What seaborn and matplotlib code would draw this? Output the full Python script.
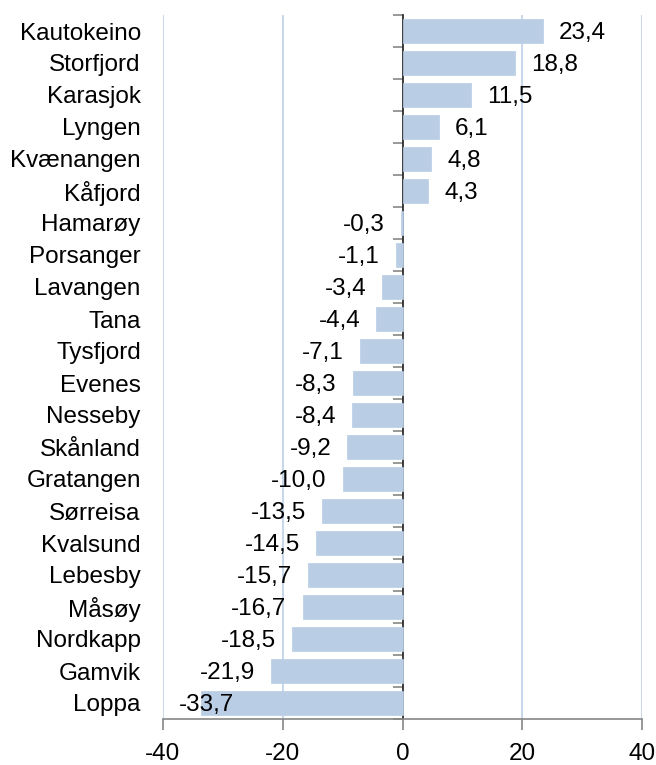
import seaborn as sns
import matplotlib.pyplot as plt
import pandas as pd

municipalities = ["Kautokeino", "Storfjord", "Karasjok", "Lyngen", "Kvænangen", "Kåfjord",
                  "Hamarøy", "Porsanger", "Lavangen", "Tana", "Tysfjord", "Evenes",
                  "Nesseby", "Skånland", "Gratangen", "Sørreisa", "Kvalsund", "Lebesby",
                  "Måsøy", "Nordkapp", "Gamvik", "Loppa"]
change = [23.4, 18.8, 11.5, 6.1, 4.8, 4.3, -0.3, -1.1, -3.4, -4.4, -7.1, -8.3,
          -8.4, -9.2, -10.0, -13.5, -14.5, -15.7, -16.7, -18.5, -21.9, -33.7]
x_ticks = [-40, -20, 0, 20, 40]

BAR = "#b9cde5"
GRID = "#c2d4ea"
AXIS = "#868686"

sns.set_theme(style="white")
plt.rcParams["font.family"] = ["Liberation Sans", "DejaVu Sans"]
plt.rcParams["font.size"] = 17.5
plt.rcParams["text.color"] = "black"
plt.rcParams["xtick.color"] = "black"
plt.rcParams["ytick.color"] = "black"

df = pd.DataFrame({"kommune": municipalities, "endring": change})

fig = plt.figure(figsize=(6.56, 7.65), dpi=100)
ax = fig.add_axes([163 / 656, 1 - 719 / 765, (642 - 163) / 656, (719 - 15) / 765])

sns.barplot(data=df, y="kommune", x="endring", orient="h", color=BAR,
            saturation=1, width=0.75, ax=ax, zorder=2, edgecolor=BAR, linewidth=0.5)

ax.set_xlim(-40, 40)
ax.set_ylim(len(municipalities) - 0.5, -0.5)
ax.set_xlabel("")
ax.set_ylabel("")

# gridlines at the non-zero ticks
for t in x_ticks:
    if t != 0:
        ax.axvline(t, color=GRID, lw=1.3, zorder=0)

ax.set_xticks(x_ticks)
ax.set_xticklabels([str(t) for t in x_ticks], fontsize=17.5)
ax.tick_params(axis="x", direction="out", length=8, width=1.2, color=AXIS, pad=9,
               bottom=True)
ax.tick_params(axis="y", length=0, pad=16)
for lbl in ax.get_yticklabels():
    lbl.set_fontsize(17.5)

for side in ["top", "right", "left"]:
    ax.spines[side].set_visible(False)
ax.spines["bottom"].set_color(AXIS)
ax.spines["bottom"].set_linewidth(1.2)

# zero line with category tick marks
sec = ax.secondary_yaxis(0.5)
sec.set_yticks([i - 0.5 for i in range(len(municipalities) + 1)])
sec.set_yticklabels([])
sec.tick_params(axis="y", which="both", direction="out", length=7, width=1.2,
                color=AXIS, left=True, right=False)
sec.spines["left"].set_color(AXIS)
sec.spines["left"].set_linewidth(1.2)

# value labels, comma decimal; kept inside the plot area
for i, v in enumerate(change):
    txt = f"{v:.1f}".replace(".", ",")
    if v >= 0:
        ax.annotate(txt, xy=(v, i), xytext=(16, -2), textcoords="offset pixels",
                    ha="left", va="center", fontsize=17.5)
    elif v < -30:
        ax.annotate(txt, xy=(-40, i), xytext=(16, -2), textcoords="offset pixels",
                    ha="left", va="center", fontsize=17.5)
    else:
        ax.annotate(txt, xy=(v, i), xytext=(-16, -2), textcoords="offset pixels",
                    ha="right", va="center", fontsize=17.5)

fig.savefig("out.png", dpi=100)
